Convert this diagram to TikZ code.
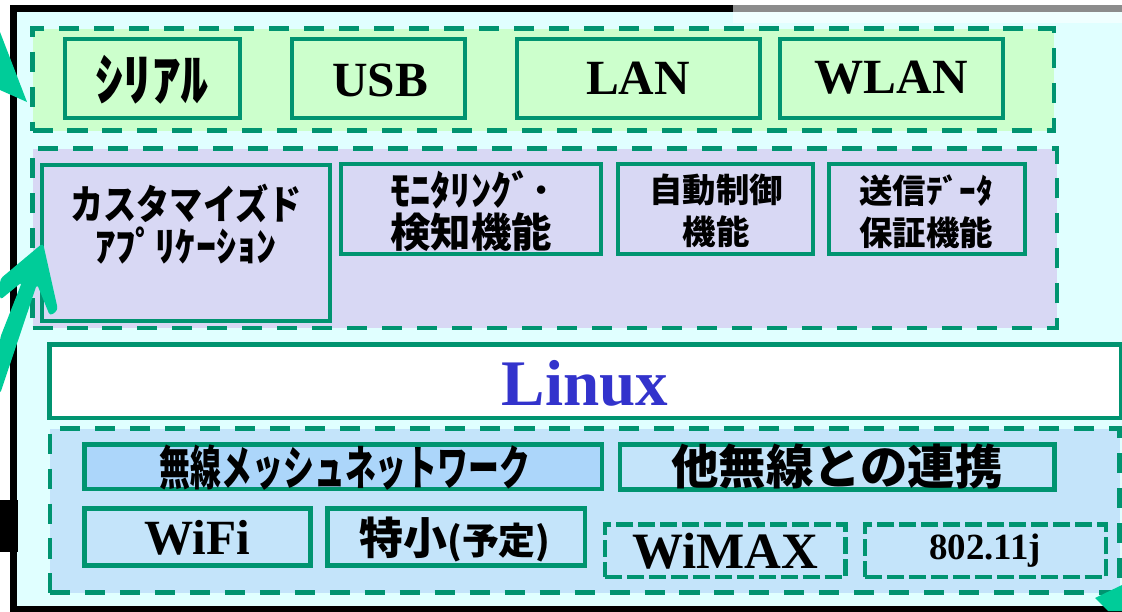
\documentclass[tikz,border=0pt]{standalone}
\usepackage{fontspec}
\usepackage{graphicx}
\setmainfont{Liberation Serif}
\newfontfamily\jpfont{Noto Sans CJK JP}
\usetikzlibrary{fit, positioning}

\definecolor{frameCyan}{RGB}{224,255,255}
\definecolor{frameLight}{RGB}{240,255,255}
\definecolor{frameGray}{RGB}{140,140,140}
\definecolor{ifGreen}{RGB}{204,255,204}
\definecolor{appLav}{RGB}{216,216,244}
\definecolor{netBlue}{RGB}{196,228,250}
\definecolor{meshBlue}{RGB}{172,214,250}
\definecolor{lineTeal}{RGB}{0,148,112}
\definecolor{arrowTeal}{RGB}{0,204,153}
\definecolor{linuxBlue}{RGB}{51,51,204}

\tikzset{
  group/.style={draw=lineTeal, line width=2.8pt, dash pattern=on 11.4pt off 8.5pt, inner sep=0pt},
  unit/.style={draw=lineTeal, line width=2.5pt, inner sep=0pt},
  planned/.style={draw=lineTeal, line width=2.5pt, dash pattern=on 9.7pt off 2.8pt, inner sep=0pt},
  lbl/.style={inner sep=0pt, align=center},
  jp/.style={font={\jpfont\bfseries\fontsize{#1}{24}\selectfont}},
  lat/.style={font={\bfseries\fontsize{#1}{#1}\selectfont}},
}

\begin{document}
\begin{tikzpicture}[x=0.2mm, y=-0.2mm]
\useasboundingbox (0,0) rectangle (1122,611);
\clip (0,0) rectangle (1122,611);

% outer frame
\draw[line width=4pt, fill=frameCyan] (13.5,8.5) rectangle (1140,609.5);
\fill[frameLight] (733,12) rectangle (1122,23);
\draw[line width=4pt, frameGray] (733,8.5) -- (1140,8.5);
\fill (0,500) rectangle (18,552);

% interface layer
\node[group, fill=ifGreen, fit={(32.5,28.5) (1054,130.5)}] (ifs) {};
\node[unit, fit={(65,39) (240,118)}] (serial) {};
\node[unit, fit={(292,39) (465,118)}] (usb) {};
\node[unit, fit={(517,39) (760,118)}] (lan) {};
\node[unit, fit={(780,39) (1003,118)}] (wlan) {};
\node[lbl, jp=32] (serialtxt) at (152,80) {ｼﾘｱﾙ};
\node[lbl, lat=28] (usbtxt) at (380,80) {USB};
\node[lbl, lat=28] (lantxt) at (638,78) {LAN};
\node[lbl, lat=28] (wlantxt) at (891,78) {WLAN};

% application layer
\node[group, fill=appLav, fit={(32.5,148.5) (1057,328)}] (apps) {};
\node[unit, fit={(42,165) (330,321)}] (custom) {};
\node[unit, fit={(341,164) (601,254)}] (monitor) {};
\node[unit, fit={(618,164) (813,254)}] (autoctl) {};
\node[unit, fit={(829,164) (1025,254)}] (sendok) {};
\node[lbl, jp=23] (customtxt) at (186,224) {\scalebox{0.82}[1]{カスタマイズド}\\ｱﾌﾟﾘｹｰｼｮﾝ};
\node[lbl, jp=23] (monitortxt) at (471,211) {ﾓﾆﾀﾘﾝｸﾞ･\\検知機能};
\node[lbl, jp=19] (autoctltxt) at (716,211) {自動制御\\機能};
\node[lbl, jp=19] (sendoktxt) at (926,212) {送信ﾃﾞｰﾀ\\保証機能};

% os
\node[unit, fill=white, fit={(49.5,344.5) (1121,418)}] (linux) {};
\node[lbl, lat=37, text=linuxBlue] (linuxtxt) at (585,383) {Linux};

% wireless layer
\node[group, fill=netBlue, fit={(50,428.5) (1119.5,592.5)}] (net) {};
\node[unit, fill=meshBlue, fit={(84.5,444.5) (602,489)}] (mesh) {};
\node[unit, fit={(620,444.5) (1054.5,489.5)}] (other) {};
\node[unit, fit={(84.5,508.5) (310.5,565.5)}] (wifi) {};
\node[unit, fit={(327.5,508.5) (585,565.5)}] (tokusho) {};
\node[planned, fit={(605,524.5) (845.5,577)}] (wimax) {};
\node[planned, fit={(865,524.5) (1106,577)}] (j11) {};
\node[lbl, jp=27] (meshtxt) at (345,468) {\scalebox{0.65}[1]{無線メッシュネットワーク}};
\node[lbl, jp=27] (othertxt) at (837,467) {他無線との連携};
\node[lbl, lat=28] (wifitxt) at (197,538) {WiFi};
\node[lbl, jp=25] (tokushotxt) at (455,539) {特小{\fontsize{21}{24}\selectfont(予定)}};
\node[lbl, lat=29] (wimaxtxt) at (725,551) {WiMAX};
\node[lbl, lat=21] (j11txt) at (985,551) {802.11j};

% pointers
\fill[arrowTeal] (0,32) -- (27,102) -- (0,90) -- cycle;
\fill[arrowTeal, rounded corners=2pt] (43,243) -- (58,310) -- (50,316) -- (37,284)
  -- (0,394) -- (0,338) -- (22,282) -- (0,300) -- (0,279) -- cycle;
\fill[arrowTeal] (1095,598) -- (1122,585) -- (1122,611) -- (1108,611) -- cycle;
\end{tikzpicture}
\end{document}
